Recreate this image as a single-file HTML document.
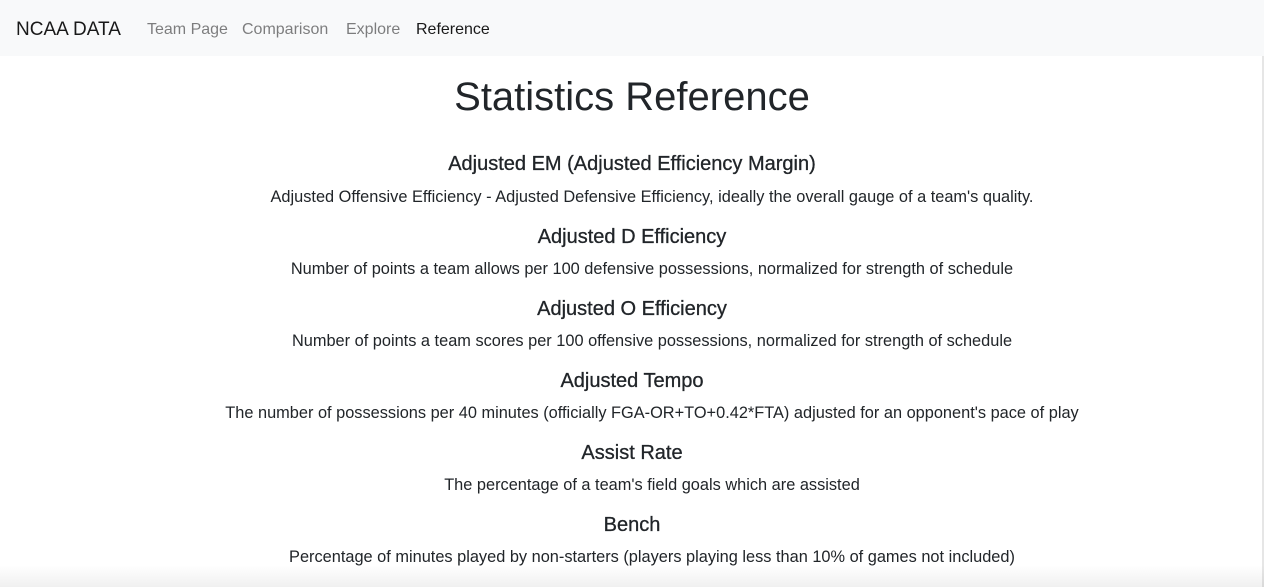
<!DOCTYPE html>
<html><head><meta charset="utf-8"><style>
html,body{margin:0;padding:0;width:1264px;height:587px;overflow:hidden;background:#fff;font-family:"Liberation Sans",sans-serif;color:#212529}
nav{position:absolute;left:0;top:0;width:1264px;height:56px;background:#f8f9fa}
nav span{position:absolute;top:2px;line-height:56px;font-size:16px;color:rgba(0,0,0,.5);white-space:nowrap}
.t{position:absolute;left:0;width:1264px;text-align:center;white-space:nowrap}
h1{font-size:40px;font-weight:500;margin:0}
.h{font-size:20px;font-weight:500;-webkit-text-stroke:0.3px #212529}
.p{font-size:16.35px;left:40px;width:1224px}
#edge{position:absolute;right:0;top:56px;width:2px;height:531px;background:#e6e6e6}
#shadow{position:absolute;left:0;bottom:0;width:1264px;height:22px;background:linear-gradient(to bottom,rgba(0,0,0,0),rgba(0,0,0,.06))}
</style></head><body>
<nav>
<span style="left:16px;font-size:19px;color:rgba(0,0,0,.9)">NCAA DATA</span>
<span style="left:147px">Team Page</span>
<span style="left:242px">Comparison</span>
<span style="left:346px">Explore</span>
<span style="left:416px;color:rgba(0,0,0,.9)">Reference</span>
</nav>
<div class="t" style="top:75px"><h1>Statistics Reference</h1></div>
<div class="t h" style="top:153px">Adjusted EM (Adjusted Efficiency Margin)</div>
<div class="t p" style="top:188px">Adjusted Offensive Efficiency - Adjusted Defensive Efficiency, ideally the overall gauge of a team's quality.</div>
<div class="t h" style="top:226px">Adjusted D Efficiency</div>
<div class="t p" style="top:260px">Number of points a team allows per 100 defensive possessions, normalized for strength of schedule</div>
<div class="t h" style="top:298px">Adjusted O Efficiency</div>
<div class="t p" style="top:332px">Number of points a team scores per 100 offensive possessions, normalized for strength of schedule</div>
<div class="t h" style="top:370px">Adjusted Tempo</div>
<div class="t p" style="top:404px">The number of possessions per 40 minutes (officially FGA-OR+TO+0.42*FTA) adjusted for an opponent's pace of play</div>
<div class="t h" style="top:442px">Assist Rate</div>
<div class="t p" style="top:476px">The percentage of a team's field goals which are assisted</div>
<div class="t h" style="top:514px">Bench</div>
<div class="t p" style="top:548px">Percentage of minutes played by non-starters (players playing less than 10% of games not included)</div>
<div id="edge"></div>
<div id="shadow"></div>
</body></html>
